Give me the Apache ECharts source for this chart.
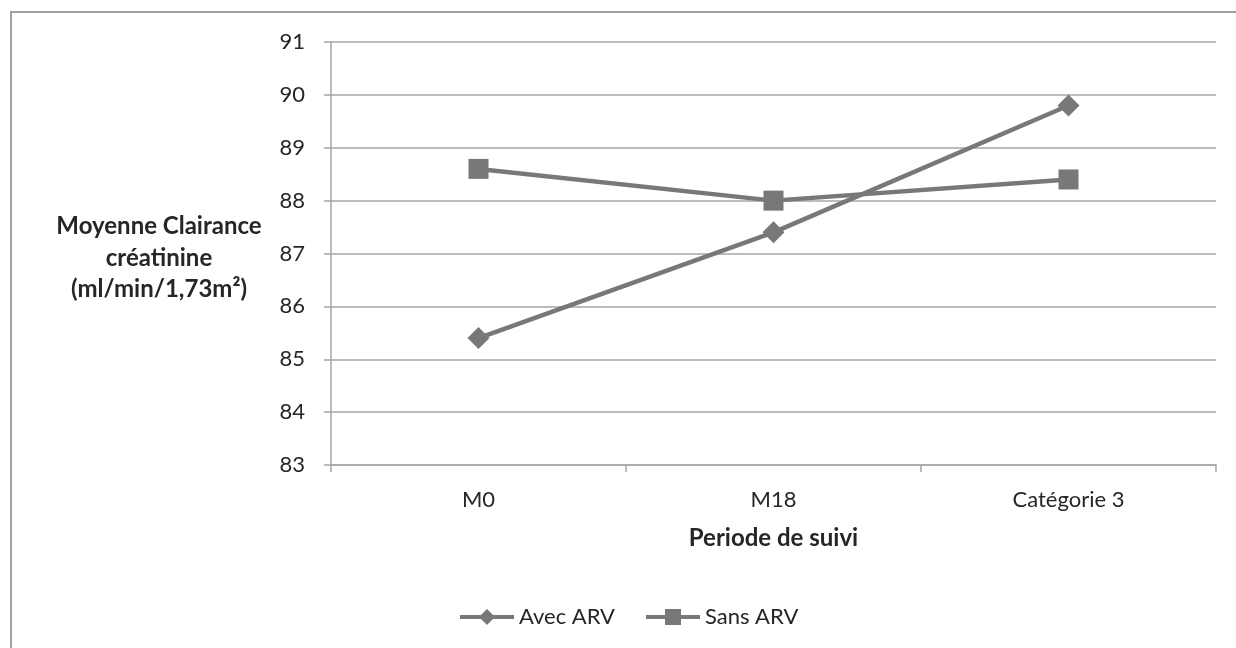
<!DOCTYPE html>
<html>
<head>
<meta charset="utf-8">
<script src="https://cdn.jsdelivr.net/npm/echarts@6/dist/echarts.min.js"></script>
<style>
  html, body { margin: 0; padding: 0; background: #fff; }
  #chart { width: 1236px; height: 648px; }
</style>
</head>
<body>
<div id="chart"></div>
<script>
// Follow-up periods and mean creatinine clearance per group
const categories = ['M0', 'M18', 'Catégorie 3'];
const avecARV = [85.4, 87.4, 89.8];
const sansARV = [88.6, 88.0, 88.4];
const yMin = 83, yMax = 91, yStep = 1;

const font = 'Lato, "Open Sans", sans-serif';
const lineColor = '#787878';
const axisColor = '#a6a6a6';
const textColor = '#262626';

const chart = echarts.init(document.getElementById('chart'));
chart.setOption({
  animation: false,
  textStyle: { fontFamily: font },
  graphic: [
    {
      type: 'rect',
      shape: { x: 11, y: 12, width: 1240, height: 650 },
      style: { fill: 'none', stroke: '#a0a0a0', lineWidth: 2 },
      silent: true
    },
    {
      type: 'text',
      x: 159, y: 211,
      style: {
        text: 'Moyenne Clairance\ncréatinine\n(ml/min/1,73m²)',
        fontFamily: font, fontWeight: 'bold', fontSize: 24,
        fill: textColor, align: 'center', verticalAlign: 'top', lineHeight: 31.5
      }
    }
  ],
  grid: { left: 331, right: 20, top: 42, bottom: 183, containLabel: false },
  legend: {
    top: 601, left: 453,
    itemWidth: 54, itemHeight: 20, itemGap: 29,
    lineStyle: { width: 4 },
    textStyle: { fontSize: 22, color: textColor, fontFamily: font },
    data: ['Avec ARV', 'Sans ARV']
  },
  xAxis: {
    type: 'category',
    data: categories,
    boundaryGap: true,
    name: 'Periode de suivi',
    nameLocation: 'middle',
    nameGap: 61,
    nameTextStyle: { fontSize: 24, fontWeight: 'bold', color: textColor, fontFamily: font },
    axisLine: { lineStyle: { color: axisColor, width: 1.5 } },
    axisTick: { show: true, length: 7, lineStyle: { color: axisColor, width: 1.5 } },
    axisLabel: { fontSize: 22, color: textColor, margin: 24, fontFamily: font }
  },
  yAxis: {
    type: 'value',
    min: yMin, max: yMax, interval: yStep,
    axisLine: { show: true, lineStyle: { color: axisColor, width: 1.5 } },
    axisTick: { show: true, length: 7, lineStyle: { color: axisColor, width: 1.5 } },
    axisLabel: { fontSize: 22, color: textColor, margin: 26, fontFamily: font },
    splitLine: { show: true, lineStyle: { color: axisColor, width: 1.5 } }
  },
  series: [
    {
      name: 'Avec ARV', type: 'line', data: avecARV,
      symbol: 'diamond', symbolSize: 22,
      lineStyle: { color: lineColor, width: 4.5 },
      itemStyle: { color: lineColor }
    },
    {
      name: 'Sans ARV', type: 'line', data: sansARV,
      symbol: 'rect', symbolSize: 20,
      lineStyle: { color: lineColor, width: 4.5 },
      itemStyle: { color: lineColor }
    }
  ]
});
</script>
</body>
</html>
